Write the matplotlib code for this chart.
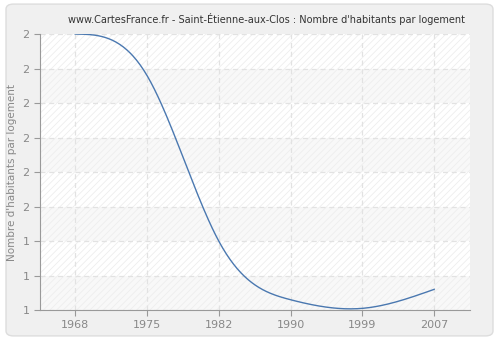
import numpy as np
import matplotlib
matplotlib.use("Agg")
import matplotlib.pyplot as plt
from matplotlib.patches import FancyBboxPatch

# Data
years = ["1968", "1975", "1982", "1990", "1999", "2007"]
values = [2.00, 1.88, 1.40, 1.23, 1.205, 1.26]

y_ticks = [1.2, 1.3, 1.4, 1.5, 1.6, 1.7, 1.8, 1.9, 2.0]
y_tick_labels = ["1", "1", "1", "2", "2", "2", "2", "2", "2"]


def natural_spline(x, y, n=300):
    # natural cubic spline through the points, only for drawing a smooth line
    x = np.asarray(x, float)
    y = np.asarray(y, float)
    k = len(x)
    h = np.diff(x)
    A = np.zeros((k, k))
    b = np.zeros(k)
    A[0, 0] = A[-1, -1] = 1
    for i in range(1, k - 1):
        A[i, i - 1] = h[i - 1]
        A[i, i] = 2 * (h[i - 1] + h[i])
        A[i, i + 1] = h[i]
        b[i] = 3 * ((y[i + 1] - y[i]) / h[i] - (y[i] - y[i - 1]) / h[i - 1])
    c = np.linalg.solve(A, b)
    xs = np.linspace(x[0], x[-1], n)
    ys = np.empty_like(xs)
    for j, xv in enumerate(xs):
        i = min(np.searchsorted(x, xv, side="right") - 1, k - 2)
        dx = xv - x[i]
        bi = (y[i + 1] - y[i]) / h[i] - h[i] * (2 * c[i] + c[i + 1]) / 3
        di = (c[i + 1] - c[i]) / (3 * h[i])
        ys[j] = y[i] + bi * dx + c[i] * dx ** 2 + di * dx ** 3
    return xs, ys


fig = plt.figure(figsize=(5, 3.4), dpi=100, facecolor="white")
fig.patches.append(FancyBboxPatch((0.012, 0.012), 0.974, 0.976,
                                  boxstyle="round,pad=0,rounding_size=0.015",
                                  transform=fig.transFigure, facecolor="#f0f0f0",
                                  edgecolor="#dddddd", linewidth=1, zorder=-10))

ax = fig.add_axes([0.08, 0.088, 0.86, 0.812])
ax.set_facecolor("#ffffff")

x = np.arange(len(years))
ax.set_xlim(-0.49, 5.5)
ax.set_ylim(1.2, 2.0)

# alternating bands and hatching
for i in range(len(y_ticks) - 1):
    if i % 2 == 0:
        ax.axhspan(y_ticks[i], y_ticks[i + 1], facecolor="#f8f8f8", edgecolor="none", zorder=0)
plt.rcParams["hatch.linewidth"] = 0.6
ax.fill_between([-0.49, 5.5], 1.2, 2.0, facecolor="none", edgecolor="#eeeeee",
                hatch="/////", linewidth=0, zorder=0.5)

ax.grid(True, color="#e2e2e2", linestyle=(0, (4, 3)), linewidth=0.9, zorder=1)
ax.set_axisbelow(True)

xs, ys = natural_spline(x, values)
ax.plot(xs, ys, color="#4a78b0", linewidth=1.0, zorder=3)

ax.set_xticks(x)
ax.set_xticklabels(years)
ax.set_yticks(y_ticks)
ax.set_yticklabels(y_tick_labels)
ax.tick_params(colors="#999999", labelsize=8, length=4, width=0.8, labelcolor="#888888")

for side in ["top", "right"]:
    ax.spines[side].set_visible(False)
for side in ["left", "bottom"]:
    ax.spines[side].set_color("#999999")

ax.set_ylabel("Nombre d'habitants par logement", fontsize=7.5, color="#888888")
fig.text(0.533, 0.945, "www.CartesFrance.fr - Saint-Étienne-aux-Clos : Nombre d'habitants par logement",
         ha="center", va="center", fontsize=7, color="#333333")

fig.savefig("out.png", dpi=100, facecolor=fig.get_facecolor())
